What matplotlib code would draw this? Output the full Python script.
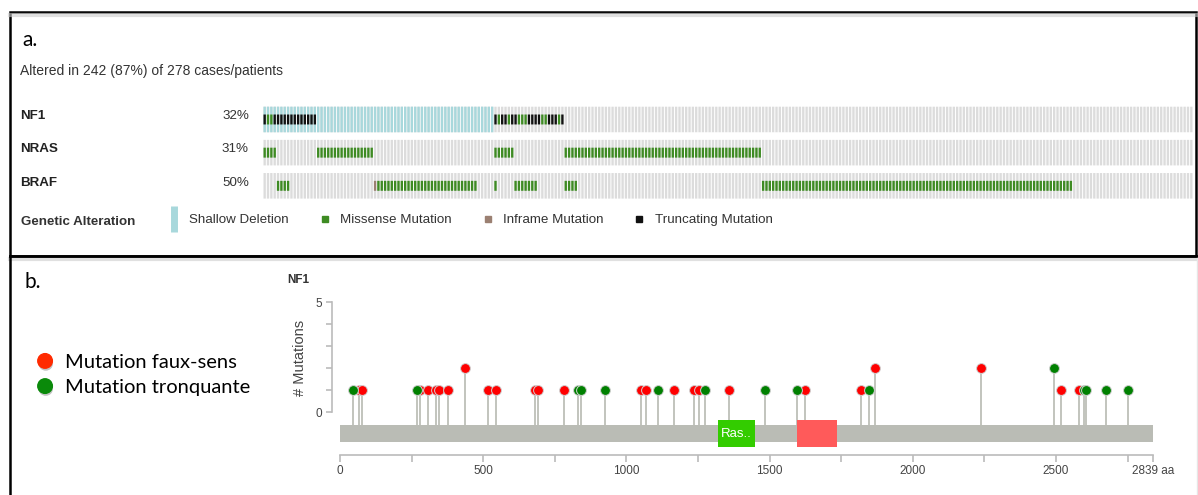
import matplotlib
matplotlib.use('Agg')
import matplotlib.pyplot as plt
import matplotlib.patheffects as pe
from matplotlib.lines import Line2D
from matplotlib.patches import Rectangle
from matplotlib.transforms import blended_transform_factory
import numpy as np

# ---- panel a : oncoprint data (case indices, left to right) ----
n_cases = 278
genes = ['NF1', 'NRAS', 'BRAF']
nf1_deletion = list(range(0, 69))
nf1_truncating = [0] + list(range(3, 16)) + [69, 71, 72, 74, 75, 79, 80, 81, 82, 85, 86, 87, 89]
nf1_missense = [1, 2, 70, 73, 76, 77, 78, 83, 84, 88]
nras_missense = list(range(0, 4)) + list(range(16, 33)) + list(range(69, 75)) + list(range(90, 149))
braf_missense = (list(range(4, 8)) + list(range(34, 64)) + [69] + list(range(75, 82))
                 + list(range(90, 94)) + list(range(149, 242)))
braf_inframe = [33]

deletions = {'NF1': nf1_deletion, 'NRAS': [], 'BRAF': []}
missense = {'NF1': nf1_missense, 'NRAS': nras_missense, 'BRAF': braf_missense}
inframe = {'NF1': [], 'NRAS': [], 'BRAF': braf_inframe}
truncating = {'NF1': nf1_truncating, 'NRAS': [], 'BRAF': []}

# ---- panel b : NF1 lollipop data ----
protein_length = 2839
missense_pos = [66, 77, 279, 307, 336, 346, 377, 436, 516, 545, 681, 692, 782, 1052, 1067,
                1165, 1236, 1255, 1358, 1624, 1820, 1868, 2237, 2516, 2579]
missense_cnt = [1, 1, 1, 1, 1, 1, 1, 2, 1, 1, 1, 1, 1, 1, 1,
                1, 1, 1, 1, 1, 1, 2, 2, 1, 1]
trunc_pos = [44, 270, 830, 840, 926, 1111, 1273, 1484, 1597, 1849, 2494, 2598, 2605, 2675, 2752]
trunc_cnt = [1, 1, 1, 1, 1, 1, 1, 1, 1, 1, 2, 1, 1, 1, 1]
domain_names = ['Ras..', '']
domain_start = [1320, 1596]
domain_end = [1449, 1735]
domain_colors = ['#33cc00', '#ff5a5a']

W, H = 1198, 495
fig = plt.figure(figsize=(W / 100, H / 100), dpi=100)
arial = ['Liberation Sans', 'DejaVu Sans']
calibri = ['Lato', 'DejaVu Sans']

def fx(px):
    return px / W

def fy(py):
    return 1 - py / H

# panel frames
fig.add_artist(Line2D([fx(10), fx(1196)], [fy(15), fy(15)], color='#cccccc', lw=3, alpha=0.6))
fig.add_artist(Line2D([fx(10), fx(1198)], [fy(259), fy(259)], color='#cccccc', lw=3, alpha=0.6))
fig.add_artist(Rectangle((fx(10), fy(256)), fx(1186), 244 / H, fill=False, ec='black', lw=1.8,
                         transform=fig.transFigure))
fig.add_artist(Line2D([fx(10), fx(1198)], [fy(256), fy(256)], color='black', lw=2))
fig.add_artist(Line2D([fx(10), fx(10)], [fy(256), 0], color='black', lw=1.8))
fig.add_artist(Line2D([fx(1197), fx(1197)], [fy(258), 0], color='#e6e6e6', lw=1))

# ---- panel a ----
fig.text(fx(22), fy(40), 'a.', fontsize=15, family=calibri, va='center')
n_altered = len(set().union(*[set(deletions[g]) | set(missense[g]) | set(inframe[g]) | set(truncating[g])
                              for g in genes]))
fig.text(fx(20), fy(71), 'Altered in %d (%d%%) of %d cases/patients' % (n_altered, round(100 * n_altered / n_cases), n_cases),
         fontsize=10, family=arial, color='#333333', va='center')

ax1 = fig.add_axes([fx(263), fy(202.4), 930 / W, 99.5 / H])
x = np.arange(n_cases)
row_h = 0.77
mut_h = 0.3
bar_kw = dict(width=0.7, linewidth=0, snap=False)
for i, g in enumerate(genes):
    ax1.bar(x, row_h, bottom=i - row_h / 2, color='#dcdcdc', **bar_kw)
    ax1.bar(deletions[g], row_h, bottom=i - row_h / 2, color='#a8d8dc', **bar_kw)
    ax1.bar(missense[g], mut_h, bottom=i - mut_h / 2, color='#3e8b23', **bar_kw)
    ax1.bar(inframe[g], mut_h, bottom=i - mut_h / 2, color='#9b8072', **bar_kw)
    ax1.bar(truncating[g], mut_h, bottom=i - mut_h / 2, color='#111111', **bar_kw)
ax1.set_xlim(-0.5, n_cases - 0.5)
ax1.set_ylim(2.5, -0.5)
ax1.axis('off')

tr = blended_transform_factory(fig.transFigure, ax1.transData)
for i, g in enumerate(genes):
    altered = set(deletions[g]) | set(missense[g]) | set(inframe[g]) | set(truncating[g])
    ax1.text(fx(20), i - 0.1, g, transform=tr, fontsize=9.6, family=arial, weight='bold',
             color='#222222', va='center')
    ax1.text(fx(249), i - 0.1, '%d%%' % round(100 * len(altered) / n_cases), transform=tr,
             fontsize=9.6, family=arial, color='#333333', va='center', ha='right')

fig.text(fx(21), fy(222), 'Genetic Alteration', fontsize=9.6, family=arial, weight='bold',
         color='#333333', va='center')
alt_handles = [
    Line2D([], [], marker='|', ls='none', color='#a8d8dc', markersize=19, markeredgewidth=5),
    Line2D([], [], marker='s', ls='none', color='#3e8b23', markersize=4.5),
    Line2D([], [], marker='s', ls='none', color='#9b8072', markersize=4.5),
    Line2D([], [], marker='s', ls='none', color='#111111', markersize=4.5),
]
alt_labels = ['Shallow Deletion', 'Missense Mutation', 'Inframe Mutation', 'Truncating Mutation']
fig.legend(alt_handles, alt_labels, loc='center left', bbox_to_anchor=(fx(167), fy(220)),
           ncol=4, frameon=False, borderpad=0, borderaxespad=0, handlelength=1.0,
           handletextpad=0.65, columnspacing=2.2, prop={'family': arial, 'size': 9.6},
           labelcolor='#333333')

# ---- panel b ----
fig.text(fx(24), fy(282), 'b.', fontsize=15, family=calibri, va='center')
fig.text(fx(287), fy(280), 'NF1', fontsize=8.5, family=arial, weight='bold', color='#333333', va='center')

shadow = [pe.SimplePatchShadow(offset=(0.5, -1.8), shadow_rgbFace='#555555', alpha=0.35), pe.Normal()]
key_handles = [
    Line2D([], [], marker='o', ls='none', color='#ff2a00', markersize=10.5, path_effects=shadow),
    Line2D([], [], marker='o', ls='none', color='#0a8a0a', markersize=10.5, path_effects=shadow),
]
fig.legend(key_handles, ['Mutation faux-sens', 'Mutation tronquante'], loc='center left',
           bbox_to_anchor=(fx(35), fy(375)), frameon=False, borderpad=0, borderaxespad=0,
           handlelength=1.0, handletextpad=0.5, labelspacing=0.4,
           prop={'family': calibri, 'size': 14.5})

ax2 = fig.add_axes([fx(340), fy(455), 813 / W, 164 / H])
bar_top, bar_bot = -0.59, -1.36
ax2.barh((bar_top + bar_bot) / 2, protein_length, left=0, height=bar_top - bar_bot,
         color='#babcb5', zorder=1)
for name, s, e, c in zip(domain_names, domain_start, domain_end, domain_colors):
    ax2.barh((bar_top + bar_bot) / 2, e - s, left=s, height=1.23, color=c, zorder=2)
    if name:
        ax2.text((s + e) / 2, (bar_top + bar_bot) / 2, name, color='white', fontsize=9.5,
                 family=arial, ha='center', va='center', zorder=3)

ax2.vlines(missense_pos + trunc_pos, bar_top, missense_cnt + trunc_cnt, color='#bdbfb8', lw=1.3, zorder=0)
ax2.scatter(missense_pos, missense_cnt, s=50, color='#ff0000', edgecolor='#d0d0d0', lw=0.7, zorder=4)
ax2.scatter(trunc_pos, trunc_cnt, s=50, color='#008000', edgecolor='#d0d0d0', lw=0.7, zorder=4)

ax2.set_xlim(0, protein_length)
ax2.set_ylim(-1.95, 5.5)
for sp in ['top', 'right']:
    ax2.spines[sp].set_visible(False)
ax2.spines['left'].set_position(('outward', 6))
ax2.spines['left'].set_bounds(0, 5)
ax2.spines['bottom'].set_bounds(0, protein_length)
for sp in ['left', 'bottom']:
    ax2.spines[sp].set_color('#bbbbbb')
    ax2.spines[sp].set_linewidth(1.2)

xt = [0, 500, 1000, 1500, 2000, 2500, protein_length]
ax2.set_xticks(xt)
ax2.set_xticklabels(['0', '500', '1000', '1500', '2000', '2500', '%d aa' % protein_length])
ax2.set_xticks([250, 750, 1250, 1750, 2250, 2750], minor=True)
ax2.tick_params(axis='x', which='both', direction='out', length=5, width=1.2, color='#bbbbbb',
                labelsize=8.5, labelcolor='#444444', pad=2)
ax2.set_yticks(range(6))
ax2.set_yticklabels(['0', '', '', '', '', '5'])
ax2.tick_params(axis='y', direction='out', length=4, width=1.2, color='#bbbbbb',
                labelsize=8.5, labelcolor='#444444', pad=3)
for lab in ax2.get_xticklabels() + ax2.get_yticklabels():
    lab.set_family(arial)
ax2.set_ylabel('# Mutations', fontsize=10.5, family=arial, color='#444444')
ax2.yaxis.set_label_coords(-0.0406, 0.59)

fig.savefig('out.png', dpi=100)
